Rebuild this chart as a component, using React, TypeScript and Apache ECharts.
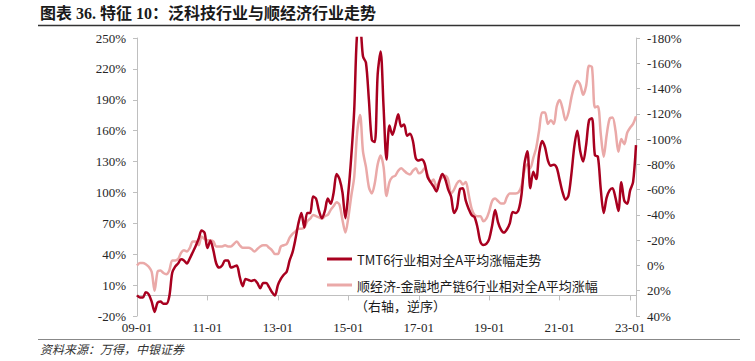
import React, { useEffect, useRef } from "react";
import * as echarts from "echarts";

// Monthly categories 2009-01 … 2023-03
const months: string[] = [];
for (let y = 2009; y <= 2023; y++) {
  for (let m = 1; m <= 12; m++) {
    if (y === 2023 && m > 3) break;
    months.push(String(y % 100).padStart(2, "0") + "-" + String(m).padStart(2, "0"));
  }
}

const tmtName = "TMT6行业相对全A平均涨幅走势";
const cycName = "顺经济-金融地产链6行业相对全A平均涨幅";

// Left axis (%)
const tmt = [
  0, -2, -2, 3, 1, -6, -16, -7, -6, -8,
  -8, -1, 22, 28, 31, 35, 34, 31, 36, 42,
  48, 55, 63, 61, 46, 53, 44, 31, 27, 29,
  34, 34, 27, 28, 29, 18, 9, 16, 15, 14,
  15, 12, 7, 12, 12, 8, 3, 0, 10, 16,
  20, 23, 34, 42, 55, 70, 80, 66, 80, 80,
  96, 94, 82, 75, 82, 94, 89, 100, 118, 113,
  100, 75, 100, 135, 180, 255, 258, 232, 226, 190,
  151, 149, 215, 237, 183, 132, 165, 156, 165, 176,
  164, 166, 155, 157, 150, 133, 131, 132, 128, 115,
  110, 106, 101, 110, 118, 113, 103, 96, 80, 85,
  103, 104, 92, 84, 78, 76, 66, 52, 49, 50,
  55, 68, 83, 71, 64, 61, 64, 70, 81, 80,
  83, 98, 128, 140, 104, 120, 113, 138, 150, 144,
  131, 126, 127, 124, 112, 100, 93, 97, 118, 145,
  160, 140, 130, 146, 170, 172, 136, 135, 103, 80,
  95, 102, 104, 95, 82, 110, 92, 89, 102, 110,
  146,
];

// Right axis (%), inverted
const cyc = [
  0, -2, -2, -1, 1, 5, 20, 5, 4, 6,
  7, 4, -4, -4, -5, -10, -12, -11, -14, -19,
  -19, -16, -23, -21, -20, -20, -19, -15, -15, -15,
  -16, -15, -15, -17, -19, -16, -14, -14, -14, -13,
  -11, -13, -15, -16, -16, -14, -12, -9, -9, -15,
  -16, -17, -22, -25, -27, -29, -29, -30, -35, -37,
  -40, -39, -38, -37, -39, -40, -44, -47, -50, -48,
  -36, -26, -38, -55, -70, -105, -119, -90, -78, -62,
  -57, -65, -80, -87, -78, -55, -66, -70, -71, -75,
  -77, -75, -73, -72, -75, -77, -73, -74, -77, -72,
  -66, -68, -62, -67, -70, -71, -68, -57, -60, -65,
  -67, -64, -66, -56, -45, -40, -39, -39, -35, -37,
  -43, -51, -53, -51, -49, -49, -54, -57, -57, -57,
  -58, -63, -75, -80, -77, -85, -93, -107, -121, -121,
  -112, -115, -112, -126, -131, -124, -115, -121, -133, -142,
  -146, -143, -135, -142, -158, -157, -125, -126, -104, -86,
  -103, -116, -117, -107, -90, -100, -96, -105, -109, -112,
  -118,
];

const leftMin = -20;
const leftMax = 250;
const leftStep = 30;
const rightMin = -180;
const rightMax = 40;
const rightStep = 20;

const isMajor = (_i: number, v: string) => {
  const [yy, mm] = v.split("-");
  return mm === "01" && Number(yy) % 2 === 1;
};

const serif = "'Liberation Serif', 'Times New Roman', 'Noto Sans CJK SC', serif";
const axisGray = "#bfbfbf";
const textColor = "#262626";

export default function App() {
  const ref = useRef<HTMLDivElement>(null);
  useEffect(() => {
    if (!ref.current) return;
    const chart = echarts.init(ref.current, undefined, { renderer: "svg" });
    chart.setOption({
      animation: false,
      backgroundColor: "#fff",
      title: {
        text: "图表 36. 特征 10：泛科技行业与顺经济行业走势",
        left: 40,
        top: 5,
        padding: 0,
        textStyle: {
          fontFamily: serif,
          fontWeight: "bold",
          fontSize: 16,
          color: "#1a1a1a",
        },
      },
      grid: { left: 137, right: 119, top: 38, bottom: 45, containLabel: false },
      legend: {
        orient: "vertical",
        left: 327,
        top: 252,
        padding: 0,
        itemWidth: 25,
        itemHeight: 3,
        itemGap: 12,
        icon: "rect",
        data: [tmtName, cycName],
        textStyle: {
          fontFamily: "'Noto Sans CJK SC', sans-serif",
          fontSize: 13,
          lineHeight: 14,
          color: "#1a1a1a",
        },
      },
      xAxis: [
        {
          type: "category",
          data: months,
          boundaryGap: false,
          position: "bottom",
          axisLine: { show: false, onZero: false },
          axisTick: { show: false },
          axisLabel: {
            interval: isMajor,
            margin: 5,
            fontFamily: serif,
            fontSize: 13,
            color: textColor,
            formatter: (v: string) => v,
          },
          splitLine: { show: false },
        },
        {
          type: "category",
          data: months,
          boundaryGap: false,
          position: "bottom",
          axisLine: {
            show: true,
            onZero: true,
            onZeroAxisIndex: 0,
            lineStyle: { color: axisGray, width: 1 },
          },
          axisTick: {
            show: true,
            interval: isMajor,
            length: 5,
            lineStyle: { color: axisGray },
          },
          axisLabel: { show: false },
          splitLine: { show: false },
        },
      ],
      yAxis: [
        {
          type: "value",
          min: leftMin,
          max: leftMax,
          interval: leftStep,
          position: "left",
          axisLine: { show: true, lineStyle: { color: axisGray } },
          axisTick: { show: true, length: 4, lineStyle: { color: axisGray } },
          axisLabel: {
            margin: 11,
            fontFamily: serif,
            fontSize: 13,
            color: textColor,
            formatter: (v: number) => `${v}%`,
          },
          splitLine: { show: false },
        },
        {
          type: "value",
          min: rightMin,
          max: rightMax,
          interval: rightStep,
          inverse: true,
          position: "right",
          axisLine: { show: true, lineStyle: { color: axisGray } },
          axisTick: { show: true, length: 4, lineStyle: { color: axisGray } },
          axisLabel: {
            margin: 11,
            fontFamily: serif,
            fontSize: 13,
            color: textColor,
            formatter: (v: number) => `${v}%`,
          },
          splitLine: { show: false },
        },
      ],
      series: [
        {
          name: cycName,
          type: "line",
          xAxisIndex: 0,
          yAxisIndex: 1,
          data: cyc,
          showSymbol: false,
          symbol: "none",
          smooth: 0.3,
          lineStyle: { color: "#eaa9a8", width: 2.5 },
          itemStyle: { color: "#eaa9a8" },
          z: 2,
        },
        {
          name: tmtName,
          type: "line",
          xAxisIndex: 0,
          yAxisIndex: 0,
          data: tmt,
          showSymbol: false,
          symbol: "none",
          smooth: 0.3,
          clip: true,
          lineStyle: { color: "#a8001f", width: 2.5 },
          itemStyle: { color: "#a8001f" },
          z: 3,
        },
      ],
      graphic: [
        {
          type: "line",
          shape: { x1: 38, y1: 25.5, x2: 740, y2: 25.5 },
          style: { stroke: "#333", lineWidth: 1.5 },
        },
        {
          type: "line",
          shape: { x1: 38, y1: 339.5, x2: 740, y2: 339.5 },
          style: { stroke: "#888", lineWidth: 1 },
        },
        {
          type: "text",
          left: 355,
          top: 299,
          style: {
            text: "（右轴，逆序）",
            font: "13px 'Noto Sans CJK SC', sans-serif",
            fill: "#1a1a1a",
          },
        },
        {
          type: "text",
          left: 40,
          top: 342,
          style: {
            text: "资料来源：万得，中银证券",
            font: "italic 12px 'Noto Sans CJK SC', sans-serif",
            fill: "#333",
          },
        },
      ],
    });
    return () => chart.dispose();
  }, []);
  return <div ref={ref} style={{ width: 755, height: 361, position: "absolute", left: 0, top: 0 }} />;
}
